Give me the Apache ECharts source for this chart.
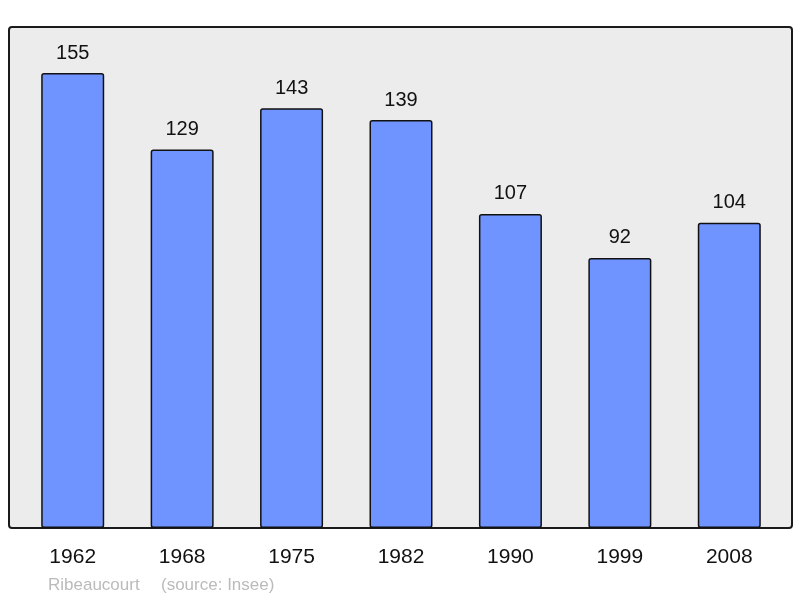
<!DOCTYPE html>
<html>
<head>
<meta charset="utf-8">
<script src="https://cdn.jsdelivr.net/npm/echarts@6/dist/echarts.min.js"></script>
<style>html,body{margin:0;padding:0;background:#fff;}#c{width:800px;height:598px;}</style>
</head>
<body>
<div id="c"></div>
<script>
const categories = ['1962', '1968', '1975', '1982', '1990', '1999', '2008'];
const population = [155, 129, 143, 139, 107, 92, 104];
const placeName = 'Ribeaucourt';
const sourceText = '(source: Insee)';

const chart = echarts.init(document.getElementById('c'), null, {renderer: 'canvas'});
chart.setOption({
  animation: false,
  backgroundColor: '#ffffff',
  graphic: [
    {type: 'rect', z: -10, shape: {x: 9, y: 27, width: 783, height: 501, r: 3},
     style: {fill: '#ececec', stroke: '#1a1a1a', lineWidth: 2}},
    {type: 'text', left: 48, top: 577, style: {text: placeName, fill: '#bbbbbb', font: '17px "Liberation Sans", Arial, sans-serif'}},
    {type: 'text', left: 161, top: 577, style: {text: sourceText, fill: '#bbbbbb', font: '17px "Liberation Sans", Arial, sans-serif'}}
  ],
  grid: {left: 18, right: 16, top: 27, bottom: 70, containLabel: false},
  xAxis: {
    type: 'category', data: categories,
    axisLine: {show: false}, axisTick: {show: false},
    axisLabel: {fontSize: 21, color: '#111', margin: 19, fontFamily: '"Liberation Sans", Arial, sans-serif'}
  },
  yAxis: {type: 'value', min: 0, max: 170.7, show: false, splitLine: {show: false}},
  series: [{
    type: 'bar', data: population, barWidth: 63,
    itemStyle: {color: '#7094ff', borderColor: '#111', borderWidth: 1.5, borderRadius: 2},
    label: {show: true, position: 'top', distance: 10, fontSize: 20, color: '#111', fontFamily: '"Liberation Sans", Arial, sans-serif'}
  }]
});
</script>
</body>
</html>
